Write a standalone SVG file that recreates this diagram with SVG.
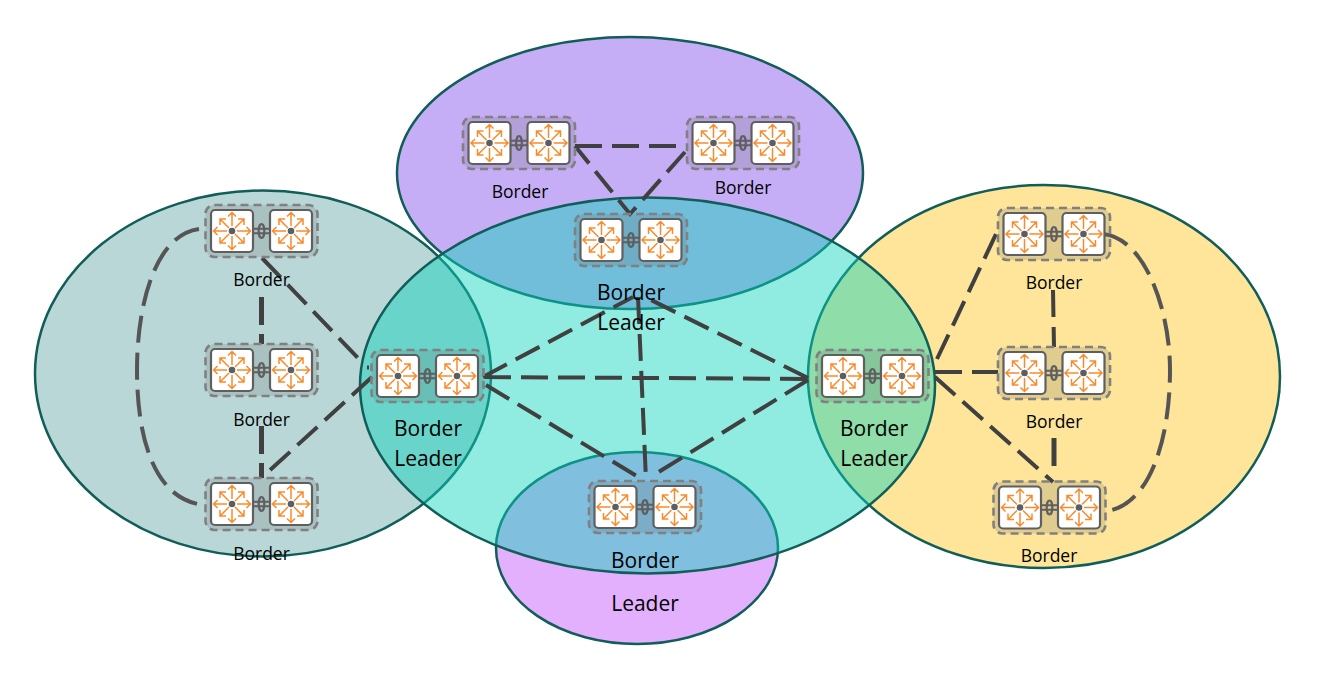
<svg xmlns="http://www.w3.org/2000/svg" width="1327" height="686" viewBox="0 0 1327 686">
<style>
.e{stroke:#115e59;stroke-width:2.5}
.c{fill:none;stroke:#404040;stroke-width:4;stroke-dasharray:27 10}
.g{stroke:#555;stroke-width:4}
.w{stroke-width:5;stroke-dasharray:28 9}
.t{font-family:"Open Sans","Noto Sans",sans-serif;font-size:17.500px;fill:#000;text-anchor:middle}
.l{font-size:21px}
.box{fill:#6b6b6b;fill-opacity:.2;stroke:#808080;stroke-width:2.6;stroke-dasharray:8 5}
.r{fill:#fff;stroke:#5f5f5f;stroke-width:2.2}
.a{fill:none;stroke:#fb8a2a;stroke-width:1.5}
</style>
<defs>
<g id="rt">
<rect class="r" x="-21" y="-21" width="42" height="42" rx="4"/>
<path class="a" d="M0-5V-18.500M-4-14.500L0-18.500L4-14.500M0 5V18.500M-4 14.500L0 18.500L4 14.500M-5 0H-18.500M-14.500-4L-18.500 0L-14.500 4M5 0H18.500M14.500-4L18.500 0L14.500 4M-3-3L-12-12M-12-6V-12H-6M3-3L12-12M6-12H12V-6M-3 3L-12 12M-12 6V12H-6M3 3L12 12M6 12H12V6"/>
<circle cx="0" cy="0" r="3.300" fill="#5a5f66"/>
</g>
<g id="pair">
<rect class="box" x="-56" y="-26" width="112" height="52" rx="9"/>
<path d="M-8-2.200H8M-8 2.200H8" stroke="#5f5f5f" stroke-width="2"/>
<ellipse cx="0" cy="0" rx="2.800" ry="7" fill="none" stroke="#5f5f5f" stroke-width="2.200"/>
<use href="#rt" x="-29.500"/>
<use href="#rt" x="29.500"/>
</g>
</defs>
<g id="regions">
<ellipse class="e" cx="630" cy="173" rx="233" ry="136" fill="#c6aef6"/>
<ellipse class="e" cx="263" cy="373.500" rx="228" ry="183" fill="#b9d7d7"/>
<ellipse class="e" cx="1044" cy="376.500" rx="236" ry="191.500" fill="#fee599"/>
<ellipse class="e" cx="637" cy="548" rx="141" ry="96" fill="#e3b0fe"/>
<ellipse class="e" cx="647.500" cy="385.500" rx="287.500" ry="188" fill="#09d3ba" fill-opacity=".45"/>
</g>
<g id="connectors">
<path class="c" d="M575 146H678M685 152L630 214L575 146"/>
<path class="c g" d="M199 229C155 235 137 305 137 370C137 440 155 500 204 505"/>
<path class="c w" d="M261.500 297V344M261.500 426V478"/>
<path class="c" d="M262 258L360 360M372 377L268 472M367 367.500h2"/>
<path class="c" d="M484 377L813 379M483 377L633 297M808 378L643 296M638 297L646 480M486 385L640 478M808 380L657 473"/>
<path class="c" d="M937 359L997 232M935 372H998M935 377L1053 482M1053 290L1054 347"/>
<path class="c w" d="M1054 438V467"/>
<path class="c g" d="M1103 234C1145 238 1170 310 1170 370C1170 440 1150 500 1112 510"/>
</g>
<g id="n1"><use href="#pair" x="519" y="143"/><text class="t" x="520" y="198">Border</text></g>
<g id="n2"><use href="#pair" x="743" y="143"/><text class="t" x="743" y="194">Border</text></g>
<g id="n3"><use href="#pair" x="631" y="240"/><text class="t l" x="631" y="300">Border</text><text class="t l" x="631" y="330">Leader</text></g>
<g id="n4"><use href="#pair" x="261.500" y="231"/><text class="t" x="261.500" y="286">Border</text></g>
<g id="n5"><use href="#pair" x="261.500" y="370"/><text class="t" x="261.500" y="426">Border</text></g>
<g id="n6"><use href="#pair" x="261.500" y="504"/><text class="t" x="261.500" y="560">Border</text></g>
<g id="n7"><use href="#pair" x="427.500" y="376"/><text class="t l" x="428" y="436">Border</text><text class="t l" x="428" y="466">Leader</text></g>
<g id="n8"><use href="#pair" x="872.500" y="376"/><text class="t l" x="874" y="436">Border</text><text class="t l" x="874" y="466">Leader</text></g>
<g id="n9"><use href="#pair" x="645" y="507"/><text class="t l" x="645" y="568">Border</text><text class="t l" x="645" y="611">Leader</text></g>
<g id="n10"><use href="#pair" x="1054" y="234"/><text class="t" x="1054" y="289">Border</text></g>
<g id="n11"><use href="#pair" x="1054" y="373"/><text class="t" x="1054" y="428">Border</text></g>
<g id="n12"><use href="#pair" x="1049.500" y="507.500"/><text class="t" x="1049" y="562">Border</text></g>
</svg>
